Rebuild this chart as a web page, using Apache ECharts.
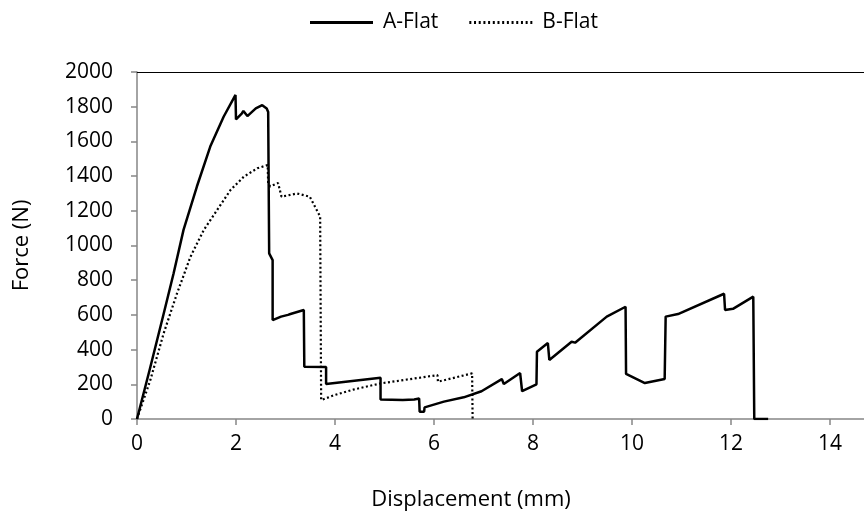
<!DOCTYPE html>
<html><head><meta charset="utf-8">
<script src="https://cdn.jsdelivr.net/npm/echarts@6/dist/echarts.min.js"></script>
<style>html,body{margin:0;padding:0;background:#fff;overflow:hidden}#c{width:950px;height:521px}</style>
</head><body><div id="c"></div>
<script>
// Series names
var seriesNames = ['A-Flat', 'B-Flat'];
// A-Flat: displacement (mm)
var aX = [0, 0.27, 0.54, 0.74, 0.94, 1.21, 1.48, 1.75, 1.99, 2.0, 2.12, 2.15, 2.23, 2.40, 2.53, 2.62, 2.65, 2.67, 2.68, 2.74, 2.74, 2.91, 3.05, 3.10, 3.37, 3.38, 3.82, 3.82, 4.92, 4.92, 5.37, 5.39, 5.60, 5.70, 5.71, 5.80, 5.81, 6.20, 6.23, 6.60, 6.96, 7.37, 7.41, 7.74, 7.78, 8.07, 8.08, 8.30, 8.33, 8.78, 8.85, 9.49, 9.87, 9.88, 10.26, 10.66, 10.68, 10.93, 10.95, 11.86, 11.88, 12.04, 12.45, 12.47, 12.75];
// A-Flat: force (N)
var aY = [0, 300, 608, 840, 1090, 1340, 1570, 1742, 1868, 1727, 1762, 1775, 1746, 1790, 1809, 1790, 1770, 955, 950, 916, 570, 590, 600, 605, 628, 301, 300, 202, 238, 113, 110, 103, 113, 118, 42, 42, 67, 100, 95, 125, 160, 230, 202, 265, 160, 200, 388, 438, 340, 445, 440, 590, 647, 260, 207, 230, 590, 605, 612, 722, 628, 635, 705, 0, 0];
// B-Flat: displacement (mm)
var bX = [0, 0.27, 0.54, 0.81, 1.08, 1.35, 1.62, 1.89, 2.16, 2.43, 2.64, 2.65, 2.69, 2.85, 2.92, 3.23, 3.49, 3.63, 3.70, 3.72, 3.99, 4.39, 4.92, 6.07, 6.08, 6.77, 6.78];
// B-Flat: force (N)
var bY = [0, 225, 495, 725, 935, 1090, 1205, 1320, 1397, 1445, 1464, 1358, 1340, 1360, 1281, 1300, 1281, 1205, 1166, 109, 138, 171, 205, 253, 215, 263, 0];
// Axis ticks
var xTicks = [0, 2, 4, 6, 8, 10, 12, 14, 16];
var yTicks = [0, 200, 400, 600, 800, 1000, 1200, 1400, 1600, 1800, 2000];

function pairs(xs, ys) { return xs.map(function (x, i) { return [x, ys[i]]; }); }
function plain(v) { return String(v); }

// legend icons (styling only)
var solidIcon = 'path://M0 0H63V3H0Z';
var dotIcon = 'path://';
for (var k = 0; k < 14; k++) {
  var x0 = (k * 61 / 13).toFixed(2);
  dotIcon += 'M' + x0 + ' 0h2v3h-2Z';
}

var FONT = '"Open Sans", sans-serif';
var chart = echarts.init(document.getElementById('c'), null, { renderer: 'canvas' });
chart.setOption({
  animation: false,
  backgroundColor: '#fff',
  textStyle: { fontFamily: FONT },
  legend: {
    top: 7, left: 305,
    itemWidth: 63, itemHeight: 3, itemGap: 31,
    textStyle: { fontFamily: FONT, fontSize: 21, color: '#000', padding: [0, 0, 0, 5] },
    data: [
      { name: seriesNames[0], icon: solidIcon },
      { name: seriesNames[1], icon: dotIcon }
    ]
  },
  grid: { left: 137, right: 21, top: 72, bottom: 102, containLabel: false },
  xAxis: [{
    type: 'value', min: xTicks[0], max: xTicks[xTicks.length - 1], interval: 2,
    name: 'Displacement (mm)', nameLocation: 'middle', nameGap: 70,
    nameTextStyle: { fontFamily: FONT, fontSize: 22, color: '#000', padding: [0, 124, 0, 0] },
    axisLine: { lineStyle: { color: '#868686', width: 1.5 } },
    axisTick: { show: true, length: 6, lineStyle: { color: '#868686', width: 1.5 } },
    axisLabel: { fontFamily: FONT, fontSize: 21, color: '#000', margin: 15, formatter: plain },
    splitLine: { show: false }
  }, {
    type: 'value', position: 'top', min: 0, max: 16,
    axisLine: { show: true, onZero: false, lineStyle: { color: '#000', width: 1.2 } },
    axisTick: { show: false }, axisLabel: { show: false }, splitLine: { show: false }
  }],
  yAxis: {
    type: 'value', min: yTicks[0], max: yTicks[yTicks.length - 1], interval: 200,
    name: 'Force (N)', nameLocation: 'middle', nameGap: 104, nameRotate: 90,
    nameTextStyle: { fontFamily: FONT, fontSize: 22, color: '#000' },
    axisLine: { show: true, lineStyle: { color: '#868686', width: 1.5 } },
    axisTick: { show: true, length: 6, lineStyle: { color: '#868686', width: 1.5 } },
    axisLabel: { fontFamily: FONT, fontSize: 21, color: '#000', margin: 24, formatter: plain },
    splitLine: { show: false }
  },
  series: [{
    name: seriesNames[0], type: 'line', data: pairs(aX, aY),
    showSymbol: false, symbol: 'none', color: '#000',
    lineStyle: { color: '#000', width: 2.5, type: 'solid' }
  }, {
    name: seriesNames[1], type: 'line', data: pairs(bX, bY),
    showSymbol: false, symbol: 'none', color: '#000',
    lineStyle: { color: '#000', width: 2.2, type: [2, 2.5] }
  }]
});
</script>
</body></html>
